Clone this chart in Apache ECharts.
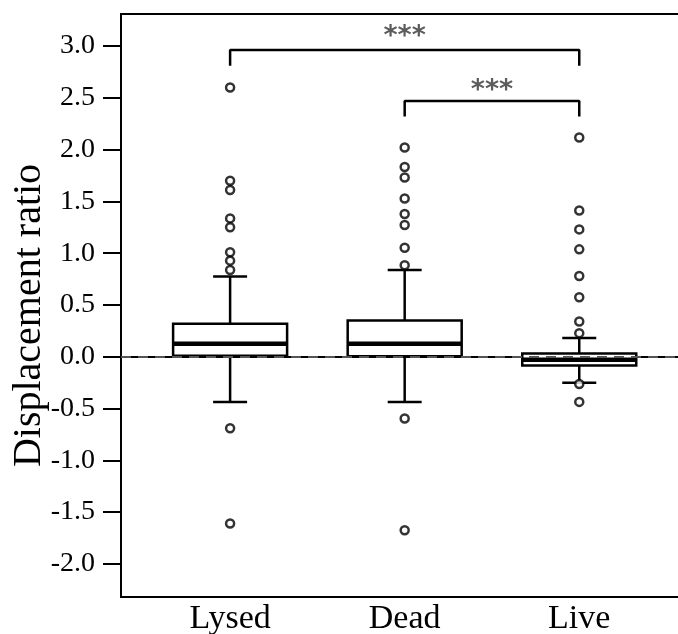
<!DOCTYPE html>
<html>
<head>
<meta charset="utf-8">
<script src="https://cdn.jsdelivr.net/npm/echarts@6/dist/echarts.min.js"></script>
<style>
  html, body { margin: 0; padding: 0; background: #fff; }
  #chart { width: 678px; height: 634px; }
</style>
</head>
<body>
<div id="chart"></div>
<script>
// groups on the x axis (positions 1, 2, 3)
var groups = ['Lysed', 'Dead', 'Live']
// box stats: [low whisker, Q1, median, Q3, high whisker]
var lysedBox = [-0.436, 0.01, 0.125, 0.318, 0.774]
var deadBox = [-0.436, 0.005, 0.125, 0.35, 0.838]
var liveBox = [-0.25, -0.084, -0.03, 0.032, 0.18]
// outliers
var lysedOut = [2.60, 1.70, 1.61, 1.336, 1.25, 1.009, 0.928, 0.838, -0.69, -1.61]
var deadOut = [2.02, 1.833, 1.731, 1.529, 1.378, 1.272, 1.053, 0.883, -0.597, -1.676]
var liveOut = [2.117, 1.413, 1.23, 1.037, 0.78, 0.575, 0.34, 0.228, -0.263, -0.436]
// y tick labels
var yTicks = [-2.0, -1.5, -1.0, -0.5, 0.0, 0.5, 1.0, 1.5, 2.0, 2.5, 3.0]
// significance brackets
var bracketFrom = [1, 2]
var bracketTo = [3, 3]
var bracketTop = [2.963, 2.470]
var bracketDrop = [0.152, 0.151]
var sigText = ['***', '***']
var sigY = [3.09, 2.57]

var boxes = [lysedBox, deadBox, liveBox]
var outs = [lysedOut, deadOut, liveOut]

var boxData = []
var outData = []
for (var i = 0; i < groups.length; i++) {
  boxData.push([i + 1].concat(boxes[i]))
  for (var j = 0; j < outs[i].length; j++) {
    outData.push([i + 1, outs[i][j]])
  }
}

var serif = 'Liberation Serif'

function renderBox (params, api) {
  var x = api.value(0)
  var pLow = api.coord([x, api.value(1)])
  var pQ1 = api.coord([x, api.value(2)])
  var pMed = api.coord([x, api.value(3)])
  var pQ3 = api.coord([x, api.value(4)])
  var pHigh = api.coord([x, api.value(5)])
  var cx = pLow[0]
  var hb = 57 // half box width
  var hc = 17 // half cap width
  var ln = { stroke: '#000', lineWidth: 2.5 }
  return {
    type: 'group',
    children: [
      { type: 'line', shape: { x1: cx, y1: pHigh[1], x2: cx, y2: pQ3[1] }, style: ln },
      { type: 'line', shape: { x1: cx, y1: pQ1[1], x2: cx, y2: pLow[1] }, style: ln },
      { type: 'line', shape: { x1: cx - hc, y1: pHigh[1], x2: cx + hc, y2: pHigh[1] }, style: ln },
      { type: 'line', shape: { x1: cx - hc, y1: pLow[1], x2: cx + hc, y2: pLow[1] }, style: ln },
      { type: 'rect', shape: { x: cx - hb, y: pQ3[1], width: hb * 2, height: pQ1[1] - pQ3[1] }, style: { fill: '#fff', stroke: '#000', lineWidth: 2.5 } },
      { type: 'line', shape: { x1: cx - hb, y1: pMed[1], x2: cx + hb, y2: pMed[1] }, style: { stroke: '#000', lineWidth: 4.5 } }
    ]
  }
}

var series = [
  {
    type: 'custom',
    z: 2,
    renderItem: renderBox,
    data: boxData,
    silent: true
  },
  {
    type: 'scatter',
    z: 3,
    symbol: 'circle',
    symbolSize: 8,
    itemStyle: { color: '#fff', borderColor: '#000', borderWidth: 2.5 },
    data: outData,
    silent: true,
    markLine: {
      silent: true,
      symbol: 'none',
      label: { show: false },
      lineStyle: { color: '#555', width: 2, type: [10, 7] },
      data: [{ yAxis: 0 }]
    }
  }
]

// brackets
for (var b = 0; b < bracketFrom.length; b++) {
  var lo = bracketTop[b] - bracketDrop[b]
  series.push({
    type: 'line',
    z: 4,
    symbol: 'none',
    silent: true,
    lineStyle: { color: '#000', width: 2.5 },
    data: [[bracketFrom[b], lo], [bracketFrom[b], bracketTop[b]], [bracketTo[b], bracketTop[b]], [bracketTo[b], lo]]
  })
  series.push({
    type: 'scatter',
    z: 4,
    symbolSize: 1,
    itemStyle: { color: 'rgba(0,0,0,0)' },
    silent: true,
    label: {
      show: true,
      position: 'inside',
      formatter: sigText[b],
      fontFamily: 'DejaVu Sans',
      fontSize: 27,
      fontWeight: 'bold',
      color: '#333'
    },
    data: [[(bracketFrom[b] + bracketTo[b]) / 2, sigY[b]]]
  })
}

var myChart = echarts.init(document.getElementById('chart'))
myChart.setOption({
  animation: false,
  grid: {
    left: 121,
    top: 14,
    right: -6,
    bottom: 37,
    outerBoundsMode: 'none',
    containLabel: false,
    show: true,
    borderColor: '#000',
    borderWidth: 2
  },
  xAxis: {
    type: 'value',
    min: 0.375,
    max: 3.6,
    splitLine: { show: false },
    axisLine: { show: true, lineStyle: { color: '#000', width: 2 } },
    axisTick: { show: false },
    axisLabel: {
      customValues: [1, 2, 3],
      formatter: function (v) { return groups[Math.round(v) - 1] },
      fontFamily: serif,
      fontSize: 34,
      color: '#000',
      margin: 5
    }
  },
  yAxis: {
    type: 'value',
    min: -2.32,
    max: 3.31,
    name: 'Displacement ratio',
    nameLocation: 'middle',
    nameGap: 72,
    nameMoveOverlap: false,
    nameTextStyle: { fontFamily: serif, fontSize: 40, color: '#000', padding: [0, 20, 0, 0] },
    splitLine: { show: false },
    axisLine: { show: true, lineStyle: { color: '#000', width: 2 } },
    axisTick: { show: true, length: 18, customValues: yTicks, lineStyle: { color: '#000', width: 2 } },
    axisLabel: {
      customValues: yTicks,
      formatter: function (v) { return v.toFixed(1) },
      fontFamily: serif,
      fontSize: 28,
      color: '#000',
      margin: 26
    }
  },
  series: series
})
</script>
</body>
</html>
